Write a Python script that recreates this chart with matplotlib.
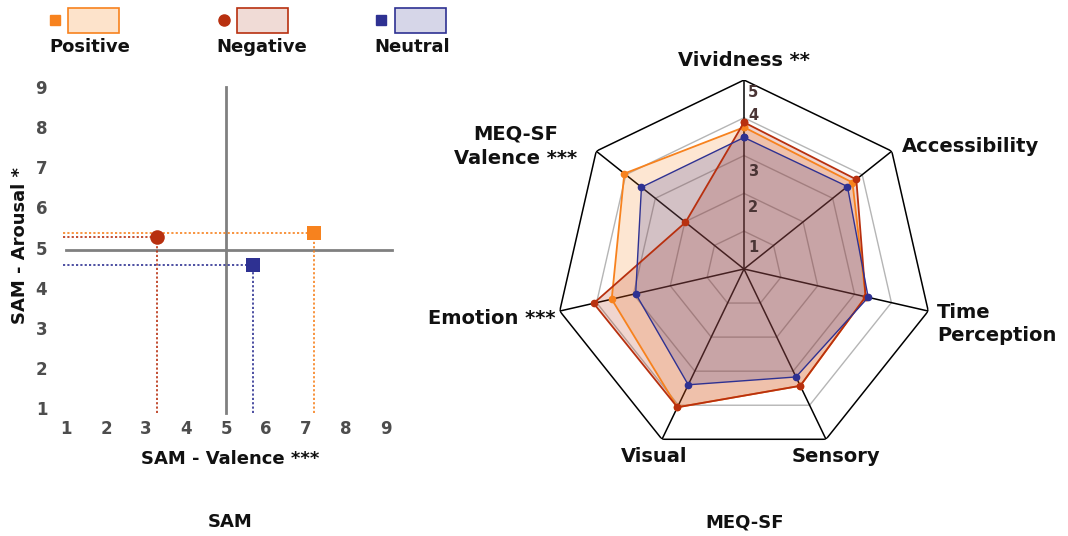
import matplotlib
matplotlib.use('Agg')
import matplotlib.pyplot as plt
import numpy as np
from matplotlib.patches import Rectangle
from matplotlib.lines import Line2D

# --- data ---
groups = ['Positive', 'Negative', 'Neutral']
colors = ['#f7821e', '#b8300f', '#2e3192']
fills = ['#fde3cb', '#f0dbd6', '#d6d6e8']
sam_markers = ['s', 'o', 's']

sam_valence = [7.2, 3.27, 5.67]
sam_arousal = [5.35, 5.25, 4.57]

meq_axes = ['Vividness', 'Accessibility', 'Time Perception', 'Sensory',
            'Visual', 'Emotion', 'MEQ-SF Valence']
meq_positive = [3.75, 3.67, 3.30, 3.43, 4.06, 3.59, 4.05]
meq_negative = [3.88, 3.80, 3.30, 3.43, 4.06, 4.08, 1.98]
meq_neutral = [3.48, 3.50, 3.37, 3.17, 3.40, 2.94, 3.47]
meq_values = [meq_positive, meq_negative, meq_neutral]

W, H = 1068, 536
fig = plt.figure(figsize=(W / 100, H / 100), dpi=100)
plt.rcParams['font.family'] = 'DejaVu Sans'

def fx(px):
    return px / W

def fy(py):
    return 1 - py / H

# --- legend on top ---
legend_marker_x = [55, 224, 381]
legend_rect_x = [68, 237, 395]
legend_text_x = [90, 262, 412]
for i, g in enumerate(groups):
    fig.add_artist(Line2D([fx(legend_marker_x[i])], [fy(20)], marker=sam_markers[i],
                          color=colors[i], markersize=8 if sam_markers[i] == 'o' else 7,
                          linestyle='none', transform=fig.transFigure))
    fig.add_artist(Rectangle((fx(legend_rect_x[i]), fy(33)), 51 / W, 25 / H,
                             facecolor=fills[i], edgecolor=colors[i], linewidth=1.2,
                             transform=fig.transFigure))
    fig.text(fx(legend_text_x[i]), fy(47), g, ha='center', va='center',
             fontsize=13, fontweight='bold', color='#111111')

# --- SAM scatter ---
ax = fig.add_axes([fx(50), fy(424), 360 / W, 357 / H])
ax.set_xlim(0.6, 9.6)
ax.set_ylim(0.6, 9.5)
for s in ax.spines.values():
    s.set_visible(False)
ax.set_xticks(range(1, 10))
ax.set_yticks(range(1, 10))
ax.tick_params(axis='x', length=0, labelsize=12, labelcolor='#4d4d4d', pad=-3)
ax.tick_params(axis='y', length=0, labelsize=12, labelcolor='#4d4d4d', pad=2)
for lab in ax.get_xticklabels() + ax.get_yticklabels():
    lab.set_fontweight('bold')

ax.plot([5, 5], [0.88, 9], color='#808080', lw=2, zorder=1)
ax.plot([1, 9.15], [4.93, 4.93], color='#808080', lw=2, zorder=1)

for i in range(3):
    x, y = sam_valence[i], sam_arousal[i]
    ax.plot([0.93, x], [y, y], color=colors[i], lw=1.2, ls=(0, (1.3, 1.3)), zorder=2)
    ax.plot([x, x], [0.88, y], color=colors[i], lw=1.2, ls=(0, (1.3, 1.3)), zorder=2)
    ax.scatter([x], [y], marker=sam_markers[i], s=110 if sam_markers[i] == 'o' else 95,
               color=colors[i], zorder=3, linewidths=0)

ax.set_xlabel('SAM - Valence ***', fontsize=13, fontweight='bold', color='#111111', labelpad=9)
ax.set_ylabel('SAM - Arousal *', fontsize=13, fontweight='bold', color='#111111', labelpad=5)

fig.text(fx(230), fy(522), 'SAM', ha='center', va='center', fontsize=13,
         fontweight='bold', color='#111111')
fig.text(fx(745), fy(522), 'MEQ-SF', ha='center', va='center', fontsize=13,
         fontweight='bold', color='#111111')

# --- MEQ-SF radar ---
rad = fig.add_axes([fx(555), fy(458), 378 / W, 378 / H], projection='polar')
rad.set_theta_zero_location('N')
rad.set_theta_direction(-1)
rad.set_ylim(0, 5)
rad.axis('off')

n = len(meq_axes)
angles = np.linspace(0, 2 * np.pi, n, endpoint=False)
closed = np.append(angles, angles[0])

for lv in range(1, 6):
    rad.plot(closed, [lv] * (n + 1), color='black' if lv == 5 else '#b5b5b5',
             lw=1.1 if lv == 5 else 1, zorder=1)
for a in angles:
    rad.plot([a, a], [0, 5], color='black', lw=1.1, zorder=1)

for i in range(3):
    vals = np.append(meq_values[i], meq_values[i][0])
    rad.fill(closed, vals, color=colors[i], alpha=0.2, linewidth=0, zorder=2)
for i in range(3):
    vals = np.append(meq_values[i], meq_values[i][0])
    rad.plot(closed, vals, color=colors[i], lw=1.3 if i < 2 else 1.0, zorder=3,
             marker='o', markersize=4.5)

tick_r = [0.56, 1.64, 2.59, 4.05, 4.68]
for k, r in enumerate(tick_r):
    rad.annotate(str(k + 1), xy=(0, r), xytext=(3, 0), textcoords='offset points',
                 ha='left', va='center', fontsize=10.5, fontweight='bold',
                 color='#4a3535', zorder=4)

lab_kw = dict(fontsize=14, fontweight='bold', color='#111111', va='center')
fig.text(fx(744), fy(61), 'Vividness **', ha='center', **lab_kw)
fig.text(fx(902), fy(147), 'Accessibility', ha='left', **lab_kw)
fig.text(fx(937), fy(324), 'Time\nPerception', ha='left', linespacing=1.3, **lab_kw)
fig.text(fx(836), fy(456), 'Sensory', ha='center', **lab_kw)
fig.text(fx(654), fy(456), 'Visual', ha='center', **lab_kw)
fig.text(fx(556), fy(319), 'Emotion ***', ha='right', **lab_kw)
fig.text(fx(516), fy(146), 'MEQ-SF\nValence ***', ha='center', multialignment='center',
         linespacing=1.4, **lab_kw)

plt.savefig('out.png', dpi=100)
